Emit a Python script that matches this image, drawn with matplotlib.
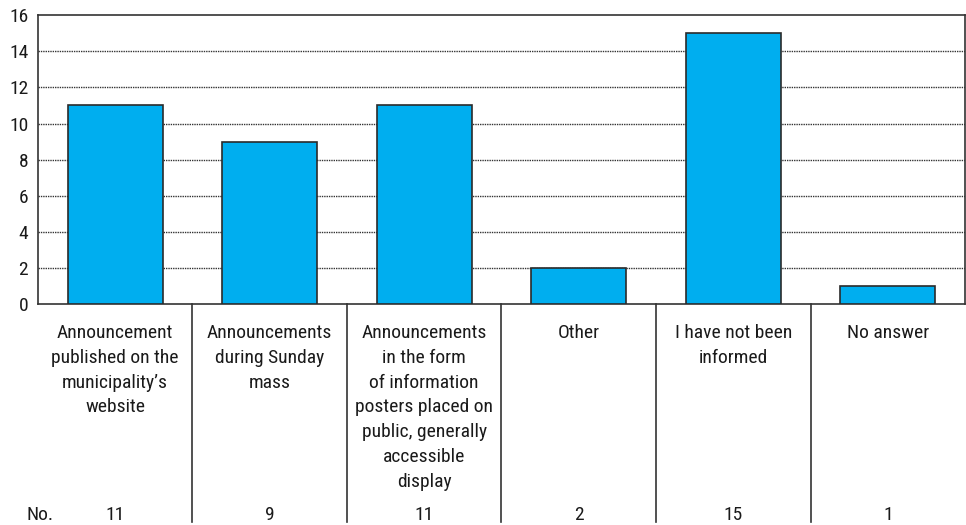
import matplotlib.pyplot as plt
import matplotlib.transforms as mtransforms
from matplotlib import font_manager

categories = [
    "Announcement\npublished on the\nmunicipality\u2019s\nwebsite",
    "Announcements\nduring Sunday\nmass",
    "Announcements\nin the form\nof information\nposters placed on\npublic, generally\naccessible\ndisplay",
    "Other",
    "I have not been\ninformed",
    "No answer",
]
counts = [11, 9, 11, 2, 15, 1]
yticks = [0, 2, 4, 6, 8, 10, 12, 14, 16]

# pick a narrow family if one is there
names = set(f.name for f in font_manager.fontManager.ttflist)
fams = [f for f in ['Liberation Sans Narrow', 'Roboto Condensed', 'DejaVu Sans Condensed',
                    'Open Sans Condensed', 'Roboto'] if f in names]
plt.rcParams['font.family'] = fams + ['DejaVu Sans']

fig = plt.figure(figsize=(9.66, 5.25), dpi=100)
ax = fig.add_axes([0.0393, 0.421, 0.9597, 0.55])

x = list(range(len(counts)))
ax.bar(x, counts, width=0.615, color='#00AEEF', edgecolor='#2b2b2b', linewidth=1.2, zorder=3)

ax.set_xlim(-0.5, len(counts) - 0.5)
ax.set_ylim(0, 16)
ax.set_yticks(yticks)
ax.set_yticklabels([str(t) for t in yticks], fontsize=14, color='#1a1a1a')
ax.tick_params(axis='y', length=0, pad=7)
ax.set_xticks([])
for t in yticks[1:-1]:
    ax.axhline(t, color='#333333', linestyle=(0, (1, 0.7)), linewidth=1.0, zorder=1)
for s in ax.spines.values():
    s.set_color('#333333')
    s.set_linewidth(1.2)

# table below the chart
trans = mtransforms.blended_transform_factory(ax.transData, ax.transAxes)
for i, (lab, n) in enumerate(zip(categories, counts)):
    ax.text(i, -0.07, lab, transform=trans, ha='center', va='top',
            fontsize=14, linespacing=1.48, color='#1a1a1a')
    ax.text(i, -0.73, str(n), transform=trans, ha='center', va='center',
            fontsize=14, color='#1a1a1a')
for i in range(len(counts) - 1):
    ax.plot([i + 0.5, i + 0.5], [0, -0.754], transform=trans, color='#333333',
            linewidth=1.2, clip_on=False)
fig.text(27 / 966, ax.get_position().y0 - 0.73 * ax.get_position().height, "No.",
         ha='left', va='center', fontsize=14, color='#1a1a1a')

fig.savefig('out.png', dpi=100)
